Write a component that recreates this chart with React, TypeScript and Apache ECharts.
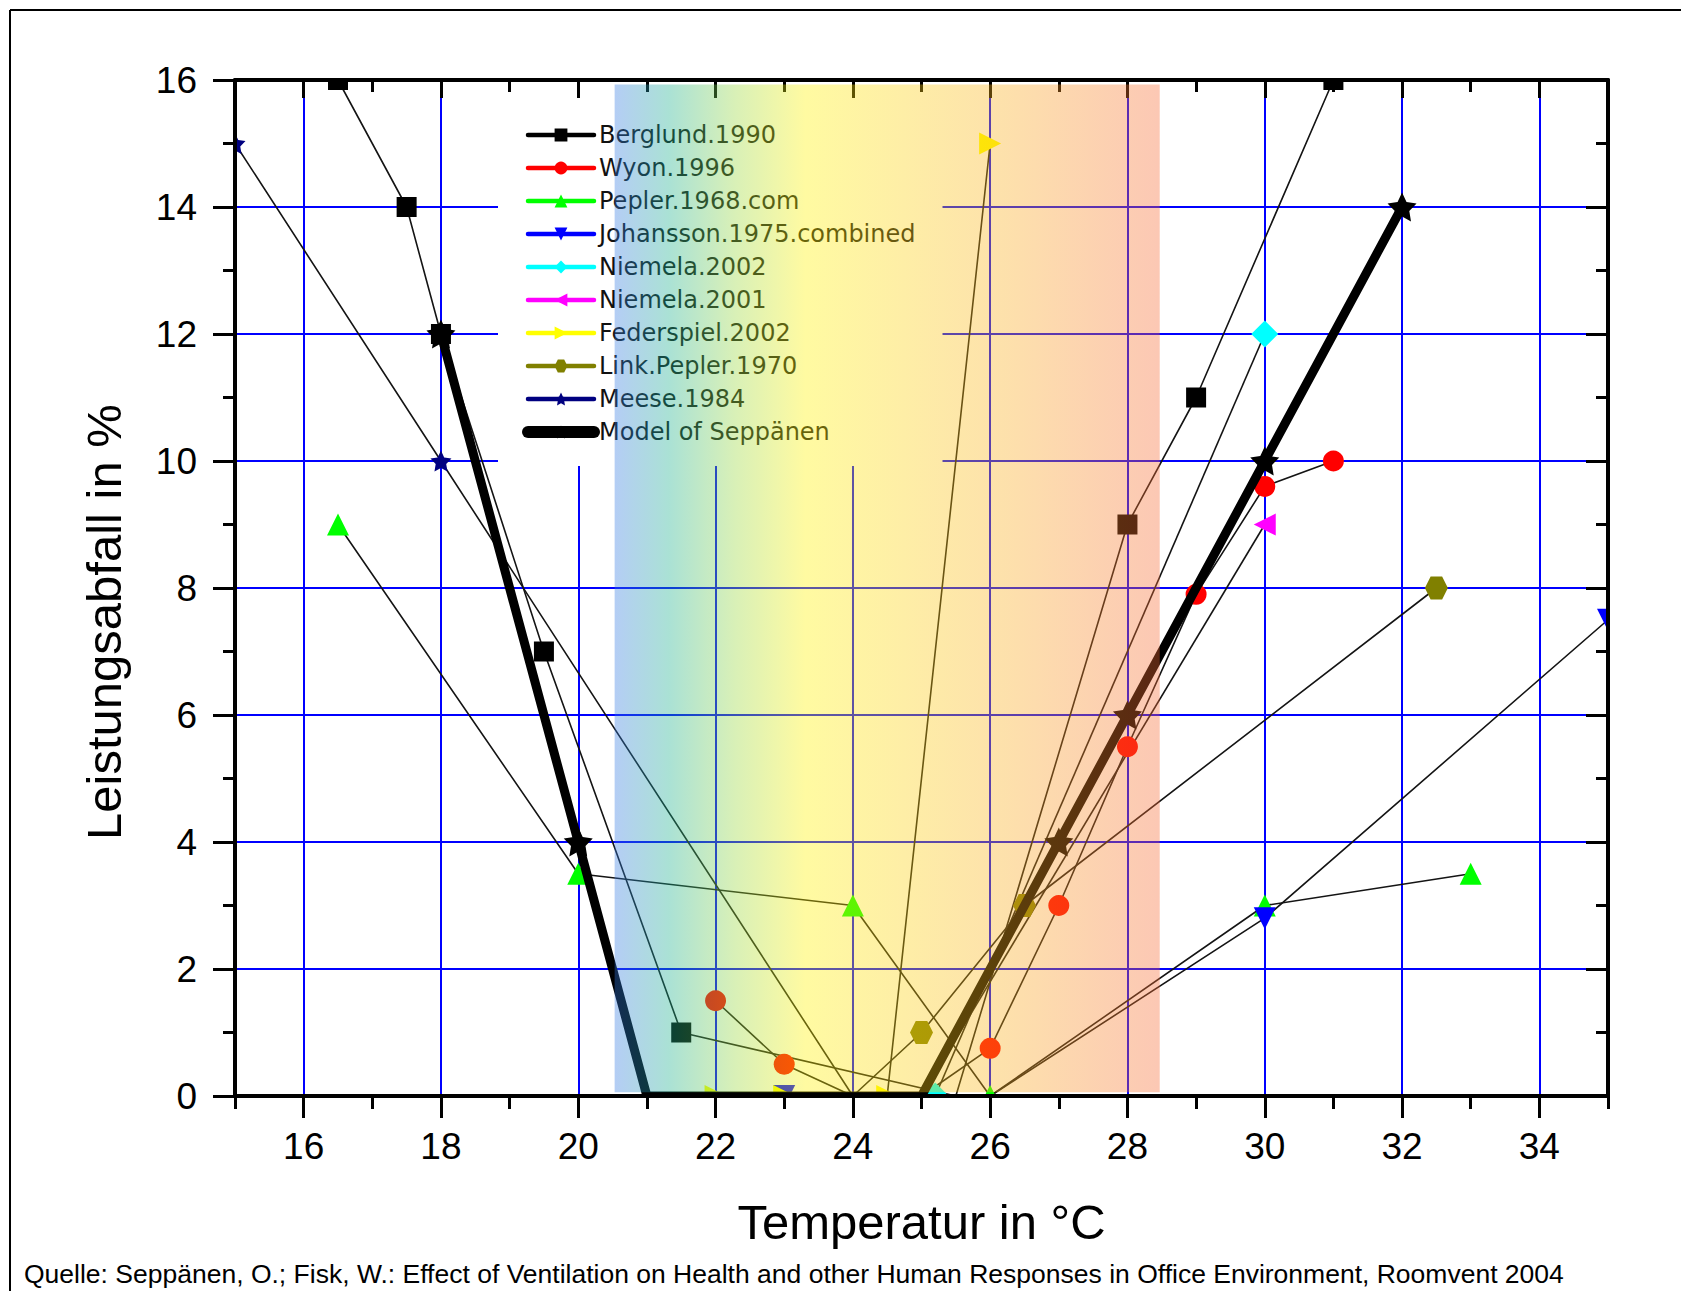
import React, { useEffect, useRef } from "react";
import * as echarts from "echarts";

// ---------- data ----------
const seriesNames = [
  "Berglund.1990",
  "Wyon.1996",
  "Pepler.1968.com",
  "Johansson.1975.combined",
  "Niemela.2002",
  "Niemela.2001",
  "Federspiel.2002",
  "Link.Pepler.1970",
  "Meese.1984",
  "Model of Seppänen",
];
const seriesColors = [
  "#000000",
  "#ff0000",
  "#00ff00",
  "#0000ff",
  "#00ffff",
  "#ff00ff",
  "#ffff00",
  "#808000",
  "#000080",
  "#000000",
];

const berglundX = [16.5, 17.5, 18, 19.5, 21.5, 25.5, 28, 29, 31];
const berglundY = [16, 14, 12, 7, 1, 0, 9, 11, 16];
const wyonX = [22, 23, 24, 25, 26, 27, 28, 29, 30, 31];
const wyonY = [1.5, 0.5, 0, 0, 0.75, 3, 5.5, 7.9, 9.6, 10];
const peplerX = [16.5, 20, 24, 26, 30, 33];
const peplerY = [9, 3.5, 3, 0, 3, 3.5];
const johanssonX = [23, 26, 30, 35];
const johanssonY = [0, 0, 2.8, 7.5];
const niemela2002X = [25.2, 30];
const niemela2002Y = [0, 12];
const niemela2001X = [25, 30];
const niemela2001Y = [0, 9];
const federspielX = [22, 23, 24.5, 26];
const federspielY = [0, 0, 0, 15];
const linkPeplerX = [24, 25, 26.5, 32.5];
const linkPeplerY = [0, 1, 3, 8];
const meeseX = [15, 18, 24];
const meeseY = [15, 10, 0];
const modelX = [18, 20, 21, 25, 27, 28, 30, 32];
const modelY = [12, 4, 0, 0, 4, 6, 10, 14];

// points whose marker is hidden under the model line (index into each series)
const hiddenMarkers: number[][] = [[5], [2, 3], [], [1], [], [0], [], [0], [2], [2, 3]];

const xMajorTicks = [16, 18, 20, 22, 24, 26, 28, 30, 32, 34];
const xMinorTicks = [15, 17, 19, 21, 23, 25, 27, 29, 31, 33, 35];
const comfortBandX = [20.53, 28.47];
const comfortBandY = [0.06, 15.93];

const xTitle = "Temperatur in °C";
const yTitle = "Leistungsabfall in %";
const sourceText =
  "Quelle: Seppänen, O.; Fisk, W.: Effect of Ventilation on Health and other Human Responses in Office Environment, Roomvent 2004";

// ---------- styling ----------
const STAR =
  "path://M50,0 L64.69,29.77 L97.55,34.55 L73.78,57.73 L79.39,90.45 L50,75 L20.61,90.45 L26.22,57.73 L2.45,34.55 L35.31,29.77 Z";
const HEX = "path://M25,6.7 L75,6.7 L100,50 L75,93.3 L25,93.3 L0,50 Z";
const FONT = "Liberation Sans, Arial, sans-serif";

function points(idx: number, xs: number[], ys: number[]) {
  return xs.map((x, i) =>
    hiddenMarkers[idx].includes(i) ? { value: [x, ys[i]], symbol: "none" } : [x, ys[i]]
  );
}

function thinSeries(
  idx: number,
  xs: number[],
  ys: number[],
  symbol: string,
  size: number,
  rotate = 0
) {
  return {
    name: seriesNames[idx],
    type: "line",
    data: points(idx, xs, ys),
    symbol,
    symbolSize: size,
    symbolRotate: rotate,
    showSymbol: true,
    itemStyle: { color: seriesColors[idx] },
    lineStyle: { color: "#141414", width: 1.6 },
    z: 2,
    silent: true,
  };
}

export default function App() {
  const ref = useRef<HTMLDivElement>(null);

  useEffect(() => {
    if (!ref.current) return;
    const chart = echarts.init(ref.current, undefined, { renderer: "svg" });

    const bandGradient = new echarts.graphic.LinearGradient(0, 0, 1, 0, [
      { offset: 0, color: "rgb(52,120,228)" },
      { offset: 0.1, color: "rgb(25,175,140)" },
      { offset: 0.22, color: "rgb(150,215,60)" },
      { offset: 0.35, color: "rgb(255,242,0)" },
      { offset: 0.55, color: "rgb(252,205,15)" },
      { offset: 0.72, color: "rgb(250,172,28)" },
      { offset: 1, color: "rgb(247,105,52)" },
    ]);

    const axisBase = { type: "value", min: 15, max: 35, splitNumber: 10 };
    const yBase = { type: "value", min: 0, max: 16, interval: 2 };
    const blackLine = { show: true, lineStyle: { color: "#000", width: 4 } };
    const mask = (x: number, y: number, w: number, h: number) => ({
      type: "rect",
      z: 5,
      silent: true,
      shape: { x, y, width: w, height: h },
      style: { fill: "#ffffff" },
    });

    const option: any = {
      animation: false,
      backgroundColor: "#ffffff",
      grid: { left: 235, right: 73, top: 80, bottom: 195, containLabel: false },
      xAxis: [
        {
          ...axisBase,
          position: "bottom",
          z: 0,
          axisLine: { show: false },
          axisTick: { show: false, customValues: xMajorTicks },
          axisLabel: { show: false },
          splitLine: { show: true, lineStyle: { color: "#0000ff", width: 2 } },
        },
        {
          ...axisBase,
          position: "bottom",
          z: 6,
          axisLine: blackLine,
          axisTick: {
            show: true,
            customValues: xMajorTicks,
            length: 22,
            lineStyle: { color: "#000", width: 3 },
          },
          axisLabel: {
            show: true,
            customValues: xMajorTicks,
            fontFamily: FONT,
            fontSize: 37,
            color: "#000",
            margin: 32,
          },
          splitLine: { show: false },
          name: xTitle,
          nameLocation: "middle",
          nameGap: 101,
          nameTextStyle: { fontFamily: FONT, fontSize: 49, color: "#000" },
        },
        {
          ...axisBase,
          position: "bottom",
          z: 6,
          axisLine: { show: false },
          axisTick: {
            show: true,
            customValues: xMinorTicks,
            length: 13,
            lineStyle: { color: "#000", width: 3 },
          },
          axisLabel: { show: false },
          splitLine: { show: false },
        },
        {
          ...axisBase,
          position: "top",
          z: 6,
          axisLine: blackLine,
          axisTick: {
            show: true,
            inside: true,
            customValues: xMajorTicks,
            length: 18,
            lineStyle: { color: "#000", width: 3 },
          },
          axisLabel: { show: false },
          splitLine: { show: false },
        },
        {
          ...axisBase,
          position: "top",
          z: 6,
          axisLine: { show: false },
          axisTick: {
            show: true,
            inside: true,
            customValues: xMinorTicks,
            length: 12,
            lineStyle: { color: "#000", width: 3 },
          },
          axisLabel: { show: false },
          splitLine: { show: false },
        },
      ],
      yAxis: [
        {
          ...yBase,
          position: "left",
          z: 0,
          axisLine: { show: false },
          axisTick: { show: false },
          axisLabel: { show: false },
          splitLine: { show: true, lineStyle: { color: "#0000ff", width: 2 } },
        },
        {
          ...yBase,
          position: "left",
          z: 6,
          axisLine: blackLine,
          axisTick: { show: true, length: 22, lineStyle: { color: "#000", width: 3 } },
          minorTick: {
            show: true,
            splitNumber: 2,
            length: 12,
            lineStyle: { color: "#000", width: 3 },
          },
          axisLabel: {
            show: true,
            fontFamily: FONT,
            fontSize: 37,
            color: "#000",
            margin: 38,
          },
          splitLine: { show: false },
        },
        {
          ...yBase,
          position: "right",
          z: 6,
          axisLine: blackLine,
          axisTick: {
            show: true,
            inside: true,
            length: 22,
            lineStyle: { color: "#000", width: 3 },
          },
          minorTick: {
            show: true,
            splitNumber: 2,
            length: 12,
            lineStyle: { color: "#000", width: 3 },
          },
          axisLabel: { show: false },
          splitLine: { show: false },
        },
      ],
      legend: {
        orient: "vertical",
        left: 498,
        top: 82,
        padding: [41, 27, 22, 24],
        backgroundColor: "#ffffff",
        itemWidth: 66,
        itemHeight: 16,
        itemGap: 9,
        selectedMode: false,
        z: 4,
        textStyle: { fontFamily: "DejaVu Sans", fontSize: 24, color: "#111" },
        data: seriesNames.map((n, i) => ({
          name: n,
          lineStyle: {
            color: seriesColors[i],
            width: i === 9 ? 12 : 4.5,
            cap: "round",
          },
        })),
      },
      graphic: [
        // white strips just outside the plot frame: clip markers sitting on the frame
        mask(150, 30, 1531, 48),
        mask(150, 1098, 1531, 27),
        mask(180, 30, 53, 1095),
        mask(1610, 30, 71, 1095),
        {
          type: "line",
          shape: { x1: 10, y1: 10, x2: 1681, y2: 10 },
          style: { stroke: "#000", lineWidth: 2 },
        },
        {
          type: "line",
          shape: { x1: 10, y1: 10, x2: 10, y2: 1291 },
          style: { stroke: "#000", lineWidth: 2 },
        },
        {
          type: "text",
          x: 104,
          y: 622,
          rotation: Math.PI / 2,
          z: 7,
          style: {
            text: yTitle,
            font: `49px ${FONT}`,
            fill: "#000",
            align: "center",
            verticalAlign: "middle",
          },
        },
        {
          type: "text",
          left: 24,
          top: 1260,
          style: { text: sourceText, font: `26.5px ${FONT}`, fill: "#000" },
        },
      ],
      series: [
        thinSeries(0, berglundX, berglundY, "rect", 20),
        thinSeries(1, wyonX, wyonY, "circle", 21),
        thinSeries(2, peplerX, peplerY, "triangle", 22),
        thinSeries(3, johanssonX, johanssonY, "triangle", 22, 180),
        thinSeries(4, niemela2002X, niemela2002Y, "diamond", 27),
        thinSeries(5, niemela2001X, niemela2001Y, "triangle", 22, 90),
        thinSeries(6, federspielX, federspielY, "triangle", 22, -90),
        thinSeries(7, linkPeplerX, linkPeplerY, HEX, 23),
        thinSeries(8, meeseX, meeseY, STAR, 21),
        {
          name: seriesNames[9],
          type: "line",
          data: points(9, modelX, modelY),
          symbol: STAR,
          symbolSize: 29,
          itemStyle: { color: "#000" },
          lineStyle: { color: "#000", width: 9, join: "round", cap: "round" },
          z: 3,
          silent: true,
        },
        {
          name: "comfort band",
          type: "custom",
          z: 10,
          silent: true,
          data: [[comfortBandX[0], comfortBandX[1], comfortBandY[0], comfortBandY[1]]],
          encode: { x: [0, 1], y: [2, 3] },
          renderItem: (params: any, api: any) => {
            const tl = api.coord([api.value(0), api.value(3)]);
            const br = api.coord([api.value(1), api.value(2)]);
            return {
              type: "rect",
              shape: { x: tl[0], y: tl[1], width: br[0] - tl[0], height: br[1] - tl[1] },
              style: { fill: bandGradient, opacity: 0.37 },
            };
          },
        },
      ],
    };

    chart.setOption(option);
    return () => chart.dispose();
  }, []);

  return (
    <div
      ref={ref}
      style={{ position: "fixed", left: 0, top: 0, width: 1681, height: 1291, background: "#fff" }}
    />
  );
}
